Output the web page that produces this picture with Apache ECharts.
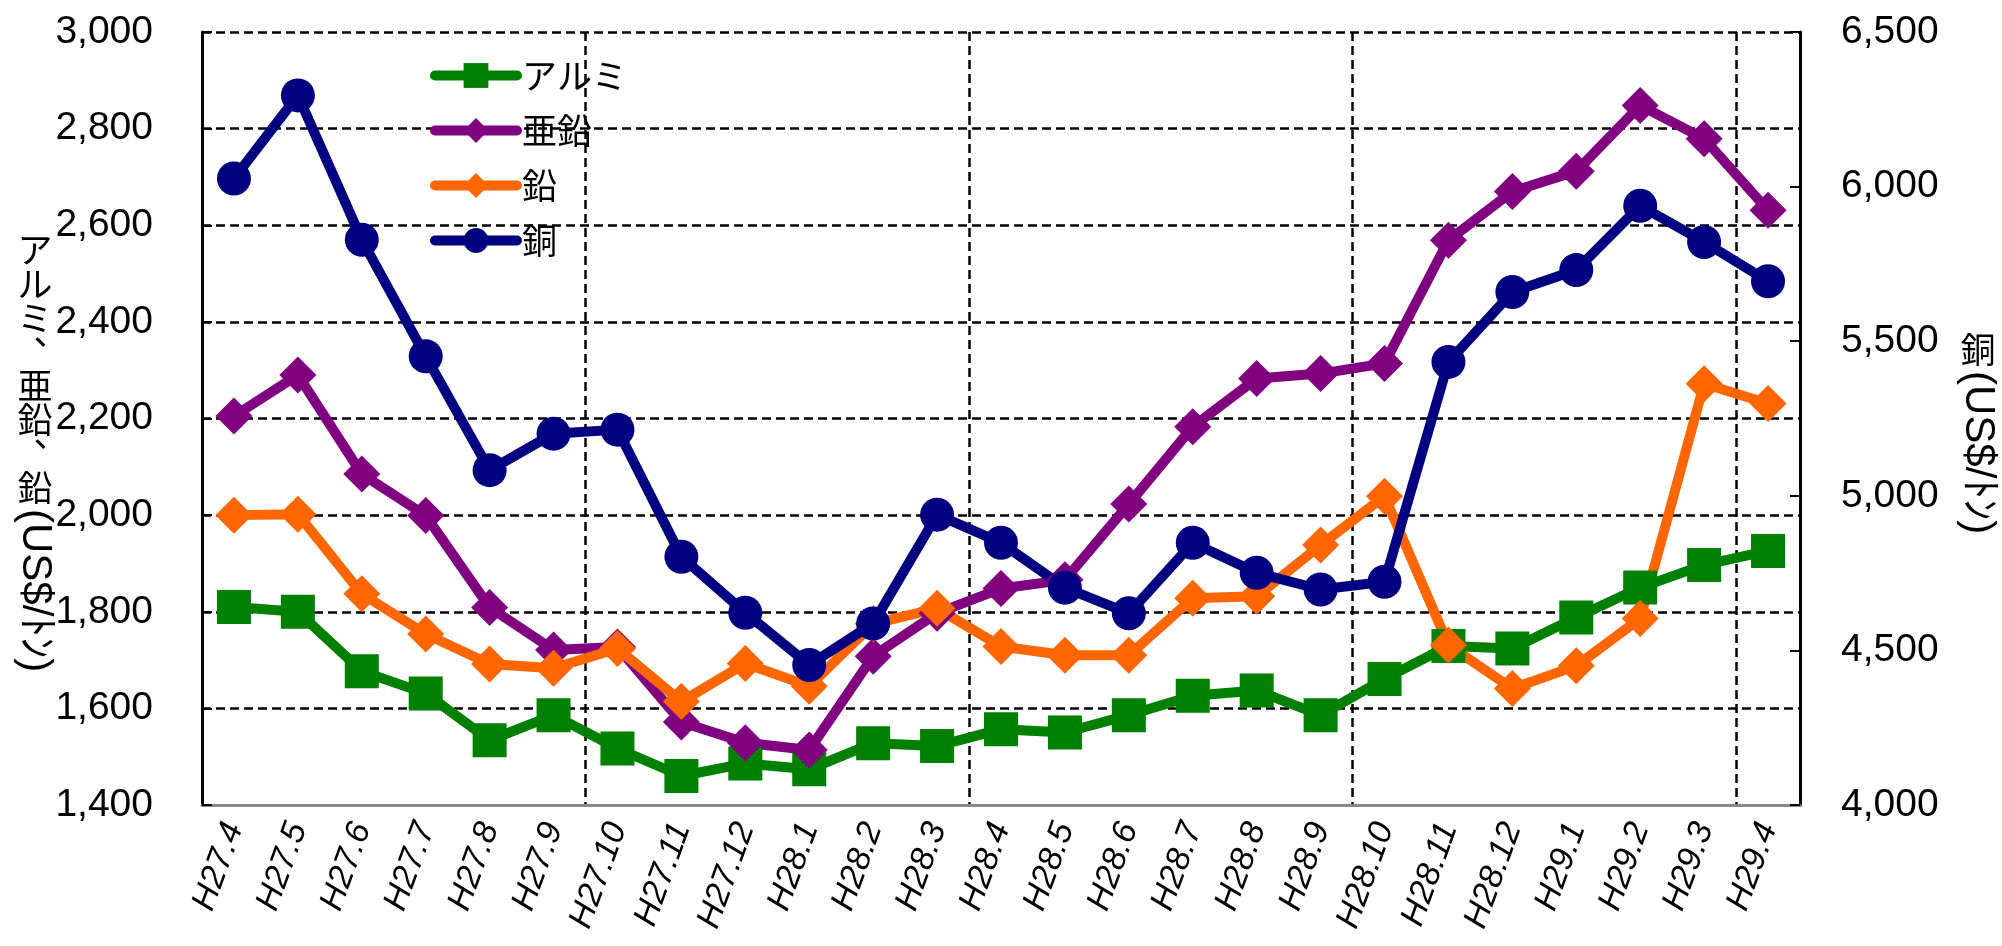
<!DOCTYPE html>
<html>
<head>
<meta charset="utf-8">
<script src="https://cdn.jsdelivr.net/npm/echarts@6/dist/echarts.min.js"></script>
<style>
    html, body {margin: 0; padding: 0; background: #fff;}
    #chart {width: 2002px; height: 946px;}
</style>
</head>
<body>
<div id="chart"></div>
<script>
// 月（平成）
const months = ['H27.4', 'H27.5', 'H27.6', 'H27.7', 'H27.8', 'H27.9', 'H27.10', 'H27.11', 'H27.12',
    'H28.1', 'H28.2', 'H28.3', 'H28.4', 'H28.5', 'H28.6', 'H28.7', 'H28.8', 'H28.9', 'H28.10', 'H28.11', 'H28.12',
    'H29.1', 'H29.2', 'H29.3', 'H29.4']
// 左軸 (US$/ﾄﾝ)
const aluminum = [1810, 1800, 1677, 1631, 1534, 1586, 1517, 1460, 1486, 1474, 1528, 1522, 1557, 1550, 1586,
    1626, 1637, 1586, 1661, 1729, 1724, 1788, 1850, 1897, 1926]
const zinc = [2205, 2290, 2085, 1999, 1809, 1721, 1727, 1572, 1529, 1514, 1708, 1797, 1848, 1866, 2023,
    2183, 2283, 2293, 2314, 2569, 2670, 2712, 2848, 2779, 2631]
const lead = [2000, 2002, 1837, 1754, 1692, 1683, 1724, 1614, 1693, 1646, 1775, 1807, 1728, 1710, 1710,
    1828, 1832, 1938, 2039, 1731, 1641, 1688, 1786, 2272, 2231]
// 右軸 (US$/ﾄﾝ)
const copper = [6026, 6295, 5828, 5451, 5083, 5201, 5214, 4803, 4622, 4453, 4587, 4939, 4848, 4703, 4620,
    4848, 4751, 4697, 4722, 5433, 5659, 5730, 5938, 5821, 5694]

const leftTitle = 'アルミ、亜鉛、鉛'
const rightTitle = '銅'
const unitText = '(US$/ﾄﾝ)'

const FONT = '"Liberation Sans", "Noto Sans CJK JP", sans-serif'
const JP = '"Noto Sans CJK JP", sans-serif'

let chart = echarts.init(document.getElementById('chart'))

// 縦書きの軸タイトル
function verticalTitle(upright, sideways, cx, top) {
    const els = []
    let y = top
    for (const ch of upright) {
        const comma = ch === '、'
        els.push({
            type: 'text',
            x: cx + (comma ? 16 : 0),
            y: y + 17 + (comma ? -20 : 0),
            style: {
                text: ch, font: '35px ' + JP, fill: '#000',
                align: 'center', textAlign: 'center', verticalAlign: 'middle', textVerticalAlign: 'middle'
            }
        })
        y += 34
    }
    els.push({
        type: 'text',
        x: cx,
        y: y + 4,
        rotation: -Math.PI / 2,
        style: {
            text: sideways, font: '42px ' + FONT, fill: '#000',
            align: 'left', textAlign: 'left', verticalAlign: 'middle', textVerticalAlign: 'middle'
        }
    })
    return els
}

const comma = v => v.toLocaleString('en-US')
const dash = {color: '#000', type: [9, 5], width: 2.5}

function lineSeries(name, data, color, symbol, size, yAxisIndex) {
    return {
        name: name,
        type: 'line',
        data: data,
        yAxisIndex: yAxisIndex,
        symbol: symbol,
        symbolSize: size,
        lineStyle: {width: 10, color: color},
        itemStyle: {color: color},
        emphasis: {disabled: true}
    }
}

const option = {
    animation: false,
    grid: {left: 202, right: 202, top: 32, bottom: 141},
    legend: {
        orient: 'vertical',
        left: 425,
        top: 53,
        itemWidth: 82,
        itemHeight: 31,
        itemGap: 20,
        textStyle: {fontSize: 35, fontFamily: JP, color: '#000'},
        lineStyle: {width: 10, cap: 'round'},
        data: ['アルミ', '亜鉛', '鉛', '銅']
    },
    xAxis: {
        type: 'category',
        data: months,
        boundaryGap: true,
        axisLine: {lineStyle: {color: '#888', width: 3}},
        axisTick: {show: false},
        axisLabel: {
            interval: 0, rotate: 70, fontSize: 34, fontStyle: 'italic',
            fontFamily: FONT, color: '#000', margin: 19
        },
        splitLine: {show: true, interval: 5, lineStyle: dash}
    },
    yAxis: [
        {
            type: 'value', position: 'left',
            min: 1400, max: 3000, interval: 200,
            axisLine: {show: true, lineStyle: {color: '#000', width: 3}},
            axisTick: {show: true, inside: true, length: 10, lineStyle: {color: '#000', width: 2}},
            axisLabel: {fontSize: 39, fontFamily: FONT, color: '#000', margin: 49, formatter: comma},
            splitLine: {show: true, lineStyle: dash}
        },
        {
            type: 'value', position: 'right',
            min: 4000, max: 6500, interval: 500,
            axisLine: {show: true, lineStyle: {color: '#000', width: 3}},
            axisTick: {show: true, inside: true, length: 10, lineStyle: {color: '#000', width: 2}},
            axisLabel: {fontSize: 39, fontFamily: FONT, color: '#000', margin: 41, formatter: comma},
            splitLine: {show: false}
        }
    ],
    series: [
        lineSeries('アルミ', aluminum, '#008000', 'rect', 34, 0),
        lineSeries('亜鉛', zinc, '#800080', 'diamond', 37, 0),
        lineSeries('鉛', lead, '#ff6600', 'diamond', 37, 0),
        lineSeries('銅', copper, '#000080', 'circle', 34, 1)
    ],
    graphic: verticalTitle(leftTitle, unitText, 35, 233).concat(verticalTitle(rightTitle, unitText, 1978, 333))
}
chart.setOption(option)
</script>
</body>
</html>
